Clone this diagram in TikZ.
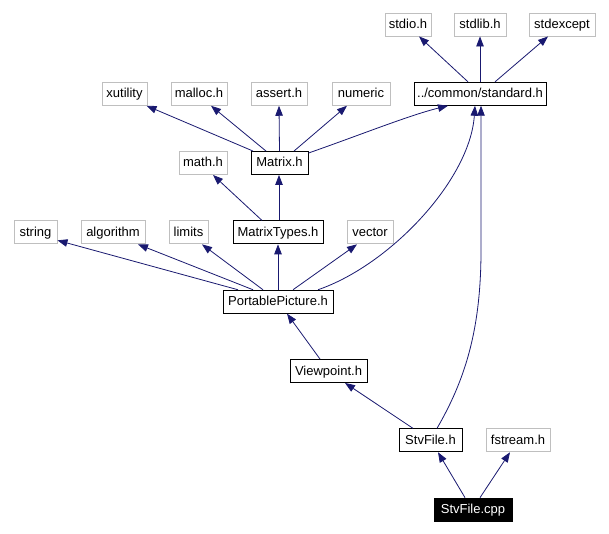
\documentclass[tikz,border=0pt]{standalone}
\usepackage{fontspec}
\setmainfont{Liberation Sans}
\usetikzlibrary{arrows.meta}
\definecolor{edgeblue}{HTML}{191970}
\definecolor{graybd}{HTML}{BFBFBF}
\tikzset{
  box/.style={draw=black, line width=0.9pt, inner sep=0pt, minimum height=23pt,
    text height=9.5pt, text depth=1.5pt,
    font=\fontsize{13}{14}\selectfont, fill=white},
  gbox/.style={box, draw=graybd},
  rootbox/.style={box, fill=black, text=white},
  edge/.style={draw=edgeblue, line width=0.8pt, -{Triangle[length=10pt,width=7.5pt]}},
}
\begin{document}
\begin{tikzpicture}[x=1pt,y=-1pt]
\useasboundingbox[fill=white] (0,0) rectangle (609,534);
% level 1
\node[gbox, minimum width=46pt] (stdio) at (408,24.5) {stdio.h};
\node[gbox, minimum width=52pt] (stdlib) at (480,24.5) {stdlib.h};
\node[gbox, minimum width=66pt] (stdexcept) at (562,24.5) {stdexcept};
% level 2
\node[gbox, minimum width=45pt] (xutility) at (124.5,93.8) {xutility};
\node[gbox, minimum width=56pt] (malloc) at (199,93.8) {malloc.h};
\node[gbox, minimum width=56pt] (assert) at (279,93.8) {assert.h};
\node[gbox, minimum width=58pt] (numeric) at (361,93.8) {numeric};
\node[box, minimum width=132pt] (standard) at (480,93.8) {../common/standard.h};
% level 3
\node[gbox, minimum width=48pt] (math) at (203,163) {math.h};
\node[box, minimum width=57pt] (matrix) at (279.5,163) {Matrix.h};
% level 4
\node[gbox, minimum width=43pt] (string) at (35.5,232.4) {string};
\node[gbox, minimum width=64pt] (algorithm) at (113,232.4) {algorithm};
\node[gbox, minimum width=39pt] (limits) at (188.5,232.4) {limits};
\node[box, minimum width=90pt] (mtypes) at (278,232.4) {MatrixTypes.h};
\node[gbox, minimum width=46pt] (vector) at (370,232.4) {vector};
% level 5
\node[box, minimum width=110pt] (pp) at (278,301.7) {PortablePicture.h};
% level 6
\node[box, minimum width=77pt] (viewpoint) at (328.5,371) {Viewpoint.h};
% level 7
\node[box, minimum width=63pt] (stvh) at (430.5,440.3) {StvFile.h};
\node[gbox, minimum width=64pt] (fstream) at (518,440.3) {fstream.h};
% level 8
\node[rootbox, minimum width=78pt] (stvcpp) at (473,509.6) {StvFile.cpp};

% edges
\draw[edge] ([xshift=-12pt]standard.north) -- ([xshift=11pt]stdio.south);
\draw[edge] (standard.north) -- (stdlib.south);
\draw[edge] ([xshift=15pt]standard.north) -- ([xshift=-14pt]stdexcept.south);

\draw[edge] ([xshift=-26.5pt]matrix.north) -- ([xshift=22pt]xutility.south);
\draw[edge] ([xshift=-13.5pt]matrix.north) -- ([xshift=12pt]malloc.south);
\draw[edge] (matrix.north) -- (assert.south);
\draw[edge] ([xshift=14.5pt]matrix.north) -- ([xshift=-14pt]numeric.south);
\draw[edge] ([yshift=-2pt]matrix.north east) .. controls (360,135) and (410,115) .. ([xshift=-32pt]standard.south);

\draw[edge] ([xshift=-16pt]mtypes.north) -- ([xshift=10pt]math.south);
\draw[edge] ([xshift=1pt]mtypes.north) -- ([xshift=-0.5pt]matrix.south);

\draw[edge] ([xshift=-40pt]pp.north) -- ([yshift=4pt]string.south east);
\draw[edge] ([xshift=-25pt]pp.north) -- ([xshift=25pt]algorithm.south);
\draw[edge] ([xshift=-15pt]pp.north) -- ([xshift=13.5pt]limits.south);
\draw[edge] (pp.north) -- (mtypes.south);
\draw[edge] ([xshift=15pt]pp.north) -- ([xshift=-13pt]vector.south);
\draw[edge] ([xshift=40pt]pp.north) .. controls (390,265) and (470,180) .. ([xshift=-5pt]standard.south);

\draw[edge] ([xshift=-8.5pt]viewpoint.north) -- ([xshift=9pt]pp.south);

\draw[edge] ([xshift=-17.5pt]stvh.north) -- ([xshift=16.5pt]viewpoint.south);
\draw[edge] ([xshift=6.5pt]stvh.north) .. controls (465,380) and (481,330) .. (481,250) -- ([xshift=1pt]standard.south);

\draw[edge] ([xshift=-8pt]stvcpp.north) -- ([xshift=7.5pt]stvh.south);
\draw[edge] ([xshift=7pt]stvcpp.north) -- ([xshift=-8pt]fstream.south);
\end{tikzpicture}
\end{document}
